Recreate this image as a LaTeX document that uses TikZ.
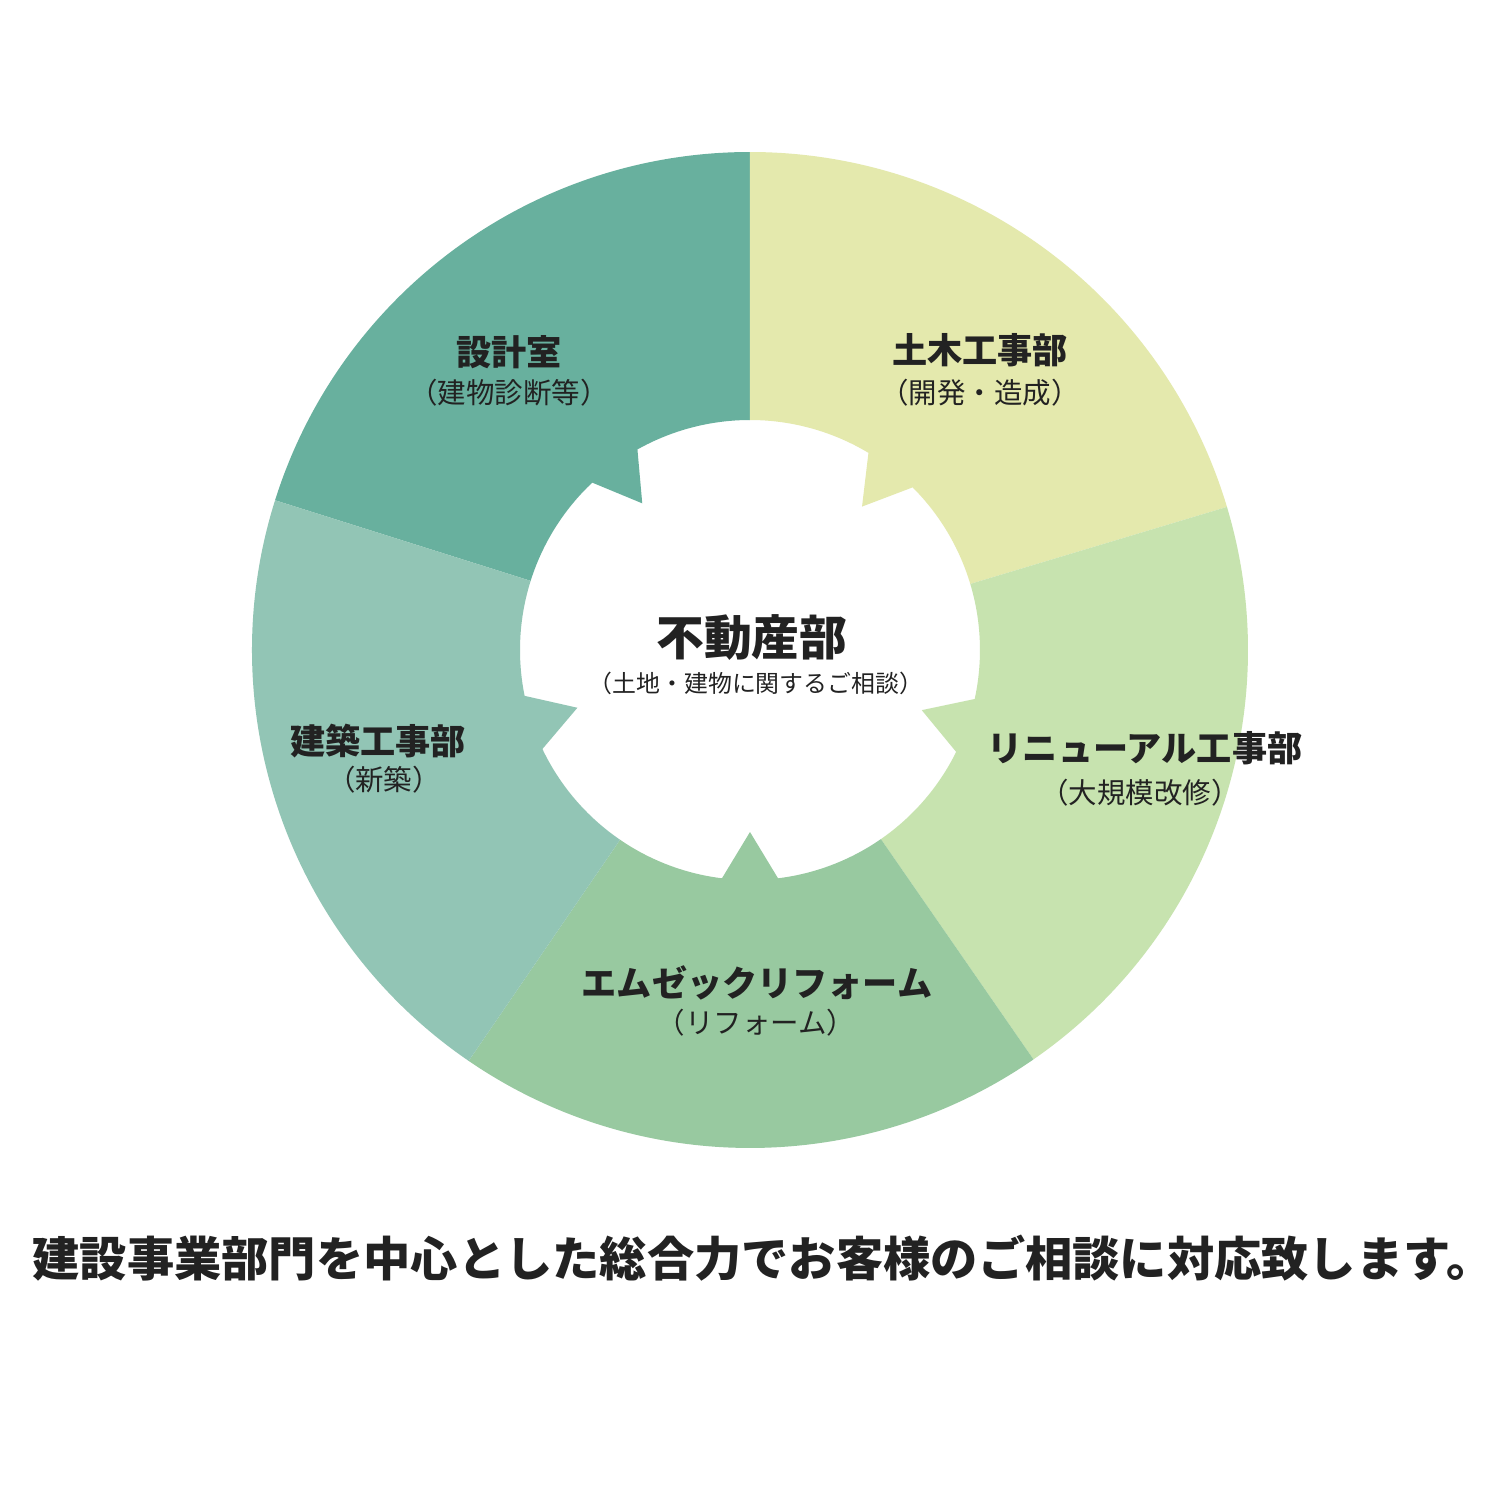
\documentclass[tikz,border=0pt]{standalone}
\usepackage{fontspec}
\usetikzlibrary{positioning}
\newfontfamily\jp{Noto Sans CJK JP}
\definecolor{sekkei}{HTML}{68B09E}
\definecolor{doboku}{HTML}{E4E9AD}
\definecolor{renewal}{HTML}{C7E3AF}
\definecolor{reform}{HTML}{98C9A0}
\definecolor{kenchiku}{HTML}{92C5B5}
\definecolor{ink}{HTML}{222222}
% one piece of the ring: colour, start angle, end angle, angle of the tooth
\newcommand{\ringpart}[4]{\fill[#1] (#2:4.98) arc[start angle=#2,end angle=#3,radius=4.98] -- (#3:2.3) arc[start angle=#3,end angle=#4+7,radius=2.3] -- (#4:1.82) -- (#4-7:2.3) arc[start angle=#4-7,end angle=#2,radius=2.3] -- cycle;}
\tikzset{
  dept/.style={font=\jp\bfseries\fontsize{10}{12}\selectfont,text=ink,inner sep=0pt},
  deptsub/.style={font=\jp\fontsize{8.1}{10}\selectfont,text=ink,inner sep=0pt},
}

\begin{document}
\begin{tikzpicture}[scale=1]
\fill[white] (-7.5,-8.5) rectangle (7.5,6.5);\useasboundingbox (-7.5,-8.5) rectangle (7.5,6.5);
\ringpart{sekkei}{90}{162.5}{126.3}\ringpart{doboku}{16.7}{90}{52}\ringpart{renewal}{-55.3}{16.7}{-19.3}
\ringpart{reform}{-124.4}{-55.3}{-90}\ringpart{kenchiku}{162.5}{235.6}{198.5}
\node[dept] (sekkeiname) at (-2.41,2.98){設計室};
\node[deptsub] (sekkeisub) at (-2.41,2.57){（建物診断等）};
\node[dept] (dobokuname) at (2.30,3.00){土木工事部};
\node[deptsub] (dobokusub) at (2.30,2.57){（開発・造成）};
\node[dept] (renewalname) at (3.95,-0.98){リニューアル工事部};
\node[deptsub] (renewalsub) at (3.90,-1.43){（大規模改修）};
\node[dept] (reformname) at (0.07,-3.33){エムゼックリフォーム};
\node[deptsub] (reformsub) at (0.06,-3.73){（リフォーム）};
\node[dept] (kenchikuname) at (-3.72,-0.91){建築工事部};
\node[deptsub] (kenchikusub) at (-3.66,-1.30){（新築）};
\node[dept,font=\jp\bfseries\fontsize{13.6}{16}\selectfont] (fudosan) at (0.02,0.12){不動産部};
\node[deptsub,font=\jp\fontsize{6.8}{8}\selectfont] (fudosansub) at (0.06,-0.33){（土地・建物に関するご相談）};
\node[dept,font=\jp\bfseries\fontsize{13.45}{16}\selectfont] (caption) at (0.13,-6.08){建設事業部門を中心とした総合力でお客様のご相談に対応致します。};
\end{tikzpicture}
\end{document}
